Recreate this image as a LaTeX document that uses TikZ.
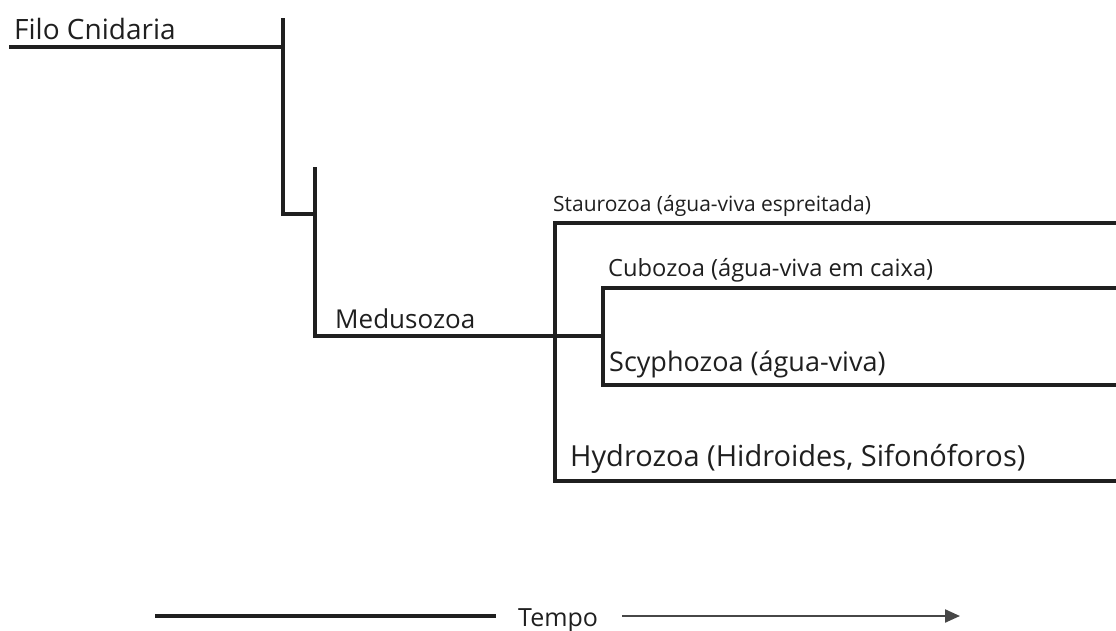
\documentclass[tikz,border=0pt]{standalone}
\usepackage{fontspec}
\setmainfont{Open Sans}
\usetikzlibrary{arrows.meta}

\newcommand{\fs}[1]{\fontsize{#1}{#1}\selectfont}

\begin{document}
\begin{tikzpicture}[x=1pt,y=-1pt,l/.style={line width=3.2pt,draw=black!88},t/.style={anchor=base west,inner sep=0pt,text=black!88},>={Triangle[length=15pt,width=13pt]}]
\useasboundingbox (0,0) rectangle (1116,630);
% labels
\node[t,font=\fs{28}] (fc) at (14,39) {Filo Cnidaria};
\node[t,font=\fs{26}] (me) at (335,328) {Medusozoa};
\node[t,font=\fs{21}] (st) at (553,211) {Staurozoa (água-viva espreitada)};
\node[t,font=\fs{23.7}] (cu) at (608,276) {Cubozoa (água-viva em caixa)};
\node[t,font=\fs{27}] (sc) at (609,371) {Scyphozoa (água-viva)};
\node[t,font=\fs{29}] (hy) at (570,466) {Hydrozoa (Hidroides, Sifonóforos)};
\node[t,font=\fs{25}] (tp) at (518,626) {Tempo};
% tree
\coordinate (r0) at (9,47); \coordinate (r1) at (283,47);
\coordinate (n1) at (283,18); \coordinate (n2) at (283,214); \coordinate (n3) at (315,214);
\coordinate (m1) at (315,167); \coordinate (m2) at (315,336); \coordinate (m3) at (603,336);
\coordinate (s1) at (555,223); \coordinate (s2) at (1116,223);
\coordinate (h1) at (555,481); \coordinate (h2) at (1116,481);
\coordinate (c1) at (603,288); \coordinate (c2) at (1116,288);
\coordinate (y1) at (603,385); \coordinate (y2) at (1116,385);
\draw[l] (r0)--(r1); \draw[l] (n1)--(n2)--(n3);
\draw[l] (m1)--(m2)--(m3);
\draw[l] (s2)--(s1)--(h1)--(h2);
\draw[l] (c2)--(c1)--(y1)--(y2);
% tempo
\coordinate (t0) at (155,616); \coordinate (t1) at (960,616);
\draw[l,line width=3.4pt] (t0)--([xshift=-22pt]tp.west|-t0);
\draw[l,line width=2.2pt,draw=black!72,->] ([xshift=24pt]tp.east|-t1)--(t1);
\end{tikzpicture}
\end{document}
